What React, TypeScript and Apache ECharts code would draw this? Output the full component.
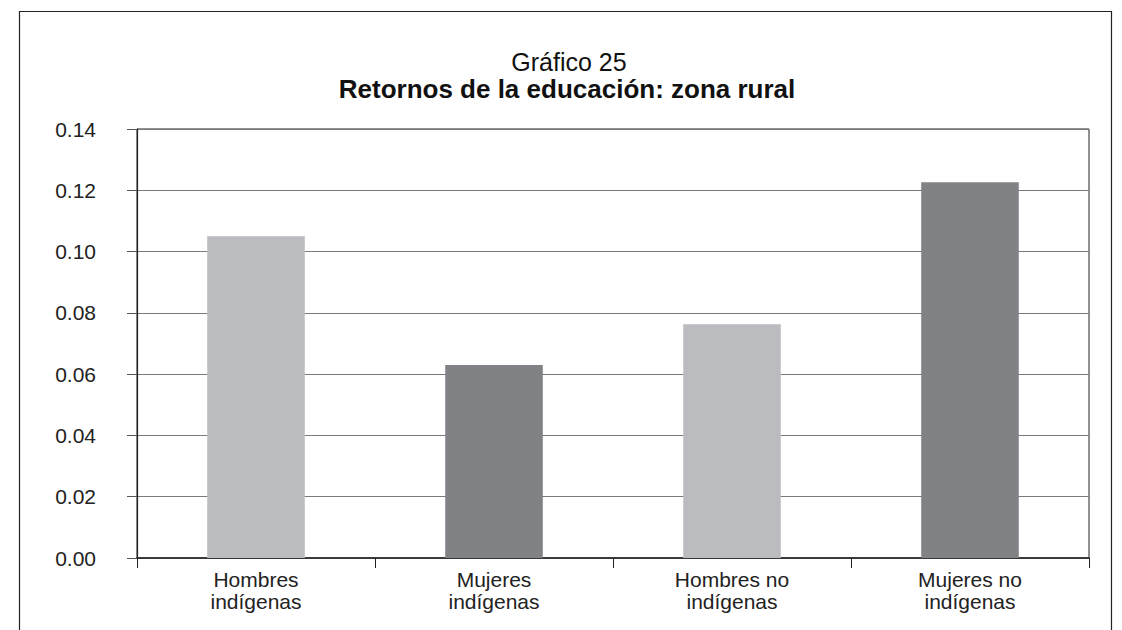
import React, { useEffect, useRef } from "react";
import * as echarts from "echarts";

const categories = ["Hombres\nindígenas", "Mujeres\nindígenas", "Hombres no\nindígenas", "Mujeres no\nindígenas"];
const values = [0.105, 0.063, 0.0763, 0.1226];
const barColors = ["#BBBCC0", "#818286", "#BBBCC0", "#818286"];
const titleLine1 = "Gráfico 25";
const titleLine2 = "Retornos de la educación: zona rural";

const FONT = "Liberation Sans, Arial, sans-serif";

export default function App() {
  const ref = useRef<HTMLDivElement>(null);
  useEffect(() => {
    if (!ref.current) return;
    const chart = echarts.init(ref.current, undefined, { renderer: "svg" });
    chart.setOption({
      animation: false,
      backgroundColor: "#ffffff",
      textStyle: { fontFamily: FONT },
      graphic: [
        {
          type: "rect",
          shape: { x: 19.5, y: 11.5, width: 1092, height: 640 },
          style: { fill: "none", stroke: "#222", lineWidth: 1.2 },
          silent: true,
        },
      ],
      title: [
        {
          text: titleLine1,
          left: 564,
          top: 44,
          textAlign: "center",
          textStyle: { fontSize: 25, fontWeight: "normal", color: "#111", fontFamily: FONT },
        },
        {
          text: titleLine2,
          left: 562,
          top: 71,
          textAlign: "center",
          textStyle: { fontSize: 26, fontWeight: "bold", color: "#111", fontFamily: FONT },
        },
      ],
      grid: {
        left: 137,
        top: 129,
        width: 952,
        height: 429,
        show: true,
        borderColor: "#222",
        borderWidth: 1,
        backgroundColor: "transparent",
      },
      xAxis: {
        type: "category",
        data: categories,
        axisLine: { show: true, lineStyle: { color: "#222", width: 1.5 } },
        axisTick: { show: true, length: 10, inside: false, alignWithLabel: false, lineStyle: { color: "#222" } },
        axisLabel: { color: "#222", fontSize: 21, lineHeight: 22, margin: 10, fontFamily: FONT },
      },
      yAxis: {
        type: "value",
        min: 0,
        max: 0.14,
        interval: 0.02,
        axisLine: { show: true, lineStyle: { color: "#222", width: 1.2 } },
        axisTick: { show: true, length: 10, lineStyle: { color: "#555" } },
        axisLabel: {
          color: "#222",
          fontSize: 21,
          margin: 41,
          formatter: (v: number) => v.toFixed(2),
          fontFamily: FONT,
        },
        splitLine: { show: true, lineStyle: { color: "#7a7a7a", width: 1.2 } },
      },
      series: [
        {
          type: "bar",
          data: values.map((v, i) => ({ value: v, itemStyle: { color: barColors[i] } })),
          barWidth: "41%",
        },
      ],
    });
    return () => chart.dispose();
  }, []);
  return <div ref={ref} style={{ position: "fixed", left: 0, top: 0, width: 1122, height: 630 }} />;
}
